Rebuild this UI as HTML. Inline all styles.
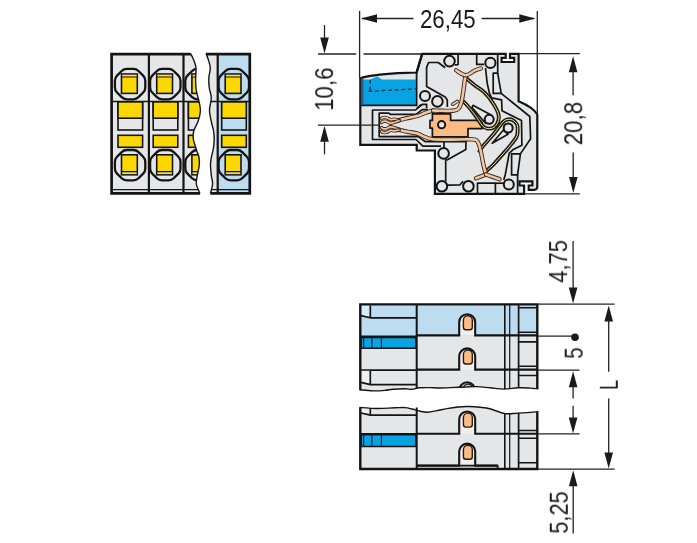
<!DOCTYPE html>
<html><head><meta charset="utf-8"><style>
html,body{margin:0;padding:0;background:#fff;width:697px;height:543px;overflow:hidden}
svg{display:block}
text{font-family:"Liberation Sans",sans-serif;fill:#1a1a1a;will-change:transform}
</style></head><body>
<svg width="697" height="543" viewBox="0 0 697 543">
<defs><clipPath id="cpL"><path d="M111.5,53.6 L190.5,53.6 C191.1,54.7 192.9,57.8 193.8,60.2 C194.7,62.6 195.7,64.8 196.0,67.9 C196.3,71.0 195.6,75.3 195.6,79.0 C195.6,82.7 195.7,86.7 196.2,90.0 C196.7,93.3 197.7,95.7 198.4,99.0 C199.1,102.3 200.4,106.3 200.4,110.0 C200.4,113.7 199.3,117.5 198.2,121.0 C197.1,124.5 194.5,128.0 193.7,131.0 C192.9,134.0 192.8,135.8 193.3,139.0 C193.8,142.2 195.6,147.0 196.5,150.0 C197.4,153.0 198.4,154.5 198.9,157.0 C199.4,159.5 199.6,161.8 199.3,165.0 C199.0,168.2 197.7,172.8 197.2,176.0 C196.7,179.2 195.9,181.1 196.3,184.0 C196.8,186.9 199.3,191.8 199.9,193.4 L111.5,193.4 Z"/></clipPath><clipPath id="cpR"><path d="M206.0,53.6 C206.3,54.5 207.4,56.6 208.1,59.0 C208.8,61.4 210.2,64.7 210.3,67.9 C210.4,71.1 209.0,74.7 208.8,78.0 C208.6,81.3 208.9,84.7 209.3,88.0 C209.7,91.3 211.3,94.3 211.3,98.0 C211.3,101.7 209.5,106.0 209.5,110.0 C209.5,114.0 210.7,118.5 211.4,122.0 C212.1,125.5 213.1,128.0 213.6,131.0 C214.1,134.0 214.3,136.8 214.2,140.0 C214.1,143.2 213.6,147.2 213.1,150.0 C212.6,152.8 211.8,154.5 211.4,157.0 C211.0,159.5 210.5,161.8 210.5,165.0 C210.5,168.2 211.1,172.8 211.4,176.0 C211.8,179.2 212.8,181.1 212.6,184.0 C212.4,186.9 210.8,191.8 210.4,193.4 L249.7,193.4 L249.7,53.6 Z"/></clipPath><clipPath id="cpRb"><rect x="217.7" y="53.6" width="32" height="139.8"/></clipPath></defs>
<path d="M111.5,53.6 L190.5,53.6 C191.1,54.7 192.9,57.8 193.8,60.2 C194.7,62.6 195.7,64.8 196.0,67.9 C196.3,71.0 195.6,75.3 195.6,79.0 C195.6,82.7 195.7,86.7 196.2,90.0 C196.7,93.3 197.7,95.7 198.4,99.0 C199.1,102.3 200.4,106.3 200.4,110.0 C200.4,113.7 199.3,117.5 198.2,121.0 C197.1,124.5 194.5,128.0 193.7,131.0 C192.9,134.0 192.8,135.8 193.3,139.0 C193.8,142.2 195.6,147.0 196.5,150.0 C197.4,153.0 198.4,154.5 198.9,157.0 C199.4,159.5 199.6,161.8 199.3,165.0 C199.0,168.2 197.7,172.8 197.2,176.0 C196.7,179.2 195.9,181.1 196.3,184.0 C196.8,186.9 199.3,191.8 199.9,193.4 L111.5,193.4 Z" fill="#e5e6e8"/>
<path d="M206.0,53.6 C206.3,54.5 207.4,56.6 208.1,59.0 C208.8,61.4 210.2,64.7 210.3,67.9 C210.4,71.1 209.0,74.7 208.8,78.0 C208.6,81.3 208.9,84.7 209.3,88.0 C209.7,91.3 211.3,94.3 211.3,98.0 C211.3,101.7 209.5,106.0 209.5,110.0 C209.5,114.0 210.7,118.5 211.4,122.0 C212.1,125.5 213.1,128.0 213.6,131.0 C214.1,134.0 214.3,136.8 214.2,140.0 C214.1,143.2 213.6,147.2 213.1,150.0 C212.6,152.8 211.8,154.5 211.4,157.0 C211.0,159.5 210.5,161.8 210.5,165.0 C210.5,168.2 211.1,172.8 211.4,176.0 C211.8,179.2 212.8,181.1 212.6,184.0 C212.4,186.9 210.8,191.8 210.4,193.4 L249.7,193.4 L249.7,53.6 Z" fill="#e5e6e8"/>
<rect x="217.7" y="53.6" width="32" height="139.8" fill="#bedcf0"/>
<g clip-path="url(#cpL)">
<path d="M145.30,87.40 Q145.30,90.40 143.18,92.52 L138.52,97.18 Q136.40,99.30 133.40,99.30 L126.80,99.30 Q123.80,99.30 121.68,97.18 L117.02,92.52 Q114.90,90.40 114.90,87.40 L114.90,80.80 Q114.90,77.80 117.02,75.68 L121.68,71.02 Q123.80,68.90 126.80,68.90 L133.40,68.90 Q136.40,68.90 138.52,71.02 L143.18,75.68 Q145.30,77.80 145.30,80.80 Z" fill="none" stroke="#141414" stroke-width="2.3"/>
<path d="M145.30,168.50 Q145.30,171.50 143.18,173.62 L138.52,178.28 Q136.40,180.40 133.40,180.40 L126.80,180.40 Q123.80,180.40 121.68,178.28 L117.02,173.62 Q114.90,171.50 114.90,168.50 L114.90,161.90 Q114.90,158.90 117.02,156.78 L121.68,152.12 Q123.80,150.00 126.80,150.00 L133.40,150.00 Q136.40,150.00 138.52,152.12 L143.18,156.78 Q145.30,158.90 145.30,161.90 Z" fill="none" stroke="#141414" stroke-width="2.3"/>
<rect x="121.5" y="74.0" width="15.8" height="19.4" fill="#fdd800" stroke="#141414" stroke-width="1.6"/>
<rect x="122.3" y="74.8" width="14.2" height="1.7" fill="#e8d3a4"/>
<line x1="121.5" y1="77.0" x2="137.3" y2="77.0" stroke="#141414" stroke-width="1.20"/>
<rect x="121.5" y="154.8" width="15.8" height="20.0" fill="#fdd800" stroke="#141414" stroke-width="1.6"/>
<rect x="122.3" y="172.3" width="14.2" height="1.8" fill="#e8d3a4"/>
<line x1="121.5" y1="171.6" x2="137.3" y2="171.6" stroke="#141414" stroke-width="1.30"/>
<rect x="118.0" y="101.8" width="24.6" height="28.2" fill="#e5e6e8" stroke="#141414" stroke-width="1.6"/>
<rect x="118.0" y="101.8" width="24.6" height="16.4" fill="#fdd800" stroke="#141414" stroke-width="1.6"/>
<rect x="118.0" y="135.3" width="24.6" height="12" fill="#fdd800" stroke="#141414" stroke-width="1.6"/>
<path d="M180.50,87.40 Q180.50,90.40 178.38,92.52 L173.72,97.18 Q171.60,99.30 168.60,99.30 L162.00,99.30 Q159.00,99.30 156.88,97.18 L152.22,92.52 Q150.10,90.40 150.10,87.40 L150.10,80.80 Q150.10,77.80 152.22,75.68 L156.88,71.02 Q159.00,68.90 162.00,68.90 L168.60,68.90 Q171.60,68.90 173.72,71.02 L178.38,75.68 Q180.50,77.80 180.50,80.80 Z" fill="none" stroke="#141414" stroke-width="2.3"/>
<path d="M180.50,168.50 Q180.50,171.50 178.38,173.62 L173.72,178.28 Q171.60,180.40 168.60,180.40 L162.00,180.40 Q159.00,180.40 156.88,178.28 L152.22,173.62 Q150.10,171.50 150.10,168.50 L150.10,161.90 Q150.10,158.90 152.22,156.78 L156.88,152.12 Q159.00,150.00 162.00,150.00 L168.60,150.00 Q171.60,150.00 173.72,152.12 L178.38,156.78 Q180.50,158.90 180.50,161.90 Z" fill="none" stroke="#141414" stroke-width="2.3"/>
<rect x="156.7" y="74.0" width="15.8" height="19.4" fill="#fdd800" stroke="#141414" stroke-width="1.6"/>
<rect x="157.5" y="74.8" width="14.2" height="1.7" fill="#e8d3a4"/>
<line x1="156.7" y1="77.0" x2="172.5" y2="77.0" stroke="#141414" stroke-width="1.20"/>
<rect x="156.7" y="154.8" width="15.8" height="20.0" fill="#fdd800" stroke="#141414" stroke-width="1.6"/>
<rect x="157.5" y="172.3" width="14.2" height="1.8" fill="#e8d3a4"/>
<line x1="156.7" y1="171.6" x2="172.5" y2="171.6" stroke="#141414" stroke-width="1.30"/>
<rect x="153.2" y="101.8" width="24.6" height="28.2" fill="#e5e6e8" stroke="#141414" stroke-width="1.6"/>
<rect x="153.2" y="101.8" width="24.6" height="16.4" fill="#fdd800" stroke="#141414" stroke-width="1.6"/>
<rect x="153.2" y="135.3" width="24.6" height="12" fill="#fdd800" stroke="#141414" stroke-width="1.6"/>
<path d="M215.70,87.40 Q215.70,90.40 213.58,92.52 L208.92,97.18 Q206.80,99.30 203.80,99.30 L197.20,99.30 Q194.20,99.30 192.08,97.18 L187.42,92.52 Q185.30,90.40 185.30,87.40 L185.30,80.80 Q185.30,77.80 187.42,75.68 L192.08,71.02 Q194.20,68.90 197.20,68.90 L203.80,68.90 Q206.80,68.90 208.92,71.02 L213.58,75.68 Q215.70,77.80 215.70,80.80 Z" fill="none" stroke="#141414" stroke-width="2.3"/>
<path d="M215.70,168.50 Q215.70,171.50 213.58,173.62 L208.92,178.28 Q206.80,180.40 203.80,180.40 L197.20,180.40 Q194.20,180.40 192.08,178.28 L187.42,173.62 Q185.30,171.50 185.30,168.50 L185.30,161.90 Q185.30,158.90 187.42,156.78 L192.08,152.12 Q194.20,150.00 197.20,150.00 L203.80,150.00 Q206.80,150.00 208.92,152.12 L213.58,156.78 Q215.70,158.90 215.70,161.90 Z" fill="none" stroke="#141414" stroke-width="2.3"/>
<rect x="191.9" y="74.0" width="15.8" height="19.4" fill="#fdd800" stroke="#141414" stroke-width="1.6"/>
<rect x="192.7" y="74.8" width="14.2" height="1.7" fill="#e8d3a4"/>
<line x1="191.9" y1="77.0" x2="207.7" y2="77.0" stroke="#141414" stroke-width="1.20"/>
<rect x="191.9" y="154.8" width="15.8" height="20.0" fill="#fdd800" stroke="#141414" stroke-width="1.6"/>
<rect x="192.7" y="172.3" width="14.2" height="1.8" fill="#e8d3a4"/>
<line x1="191.9" y1="171.6" x2="207.7" y2="171.6" stroke="#141414" stroke-width="1.30"/>
<rect x="188.4" y="101.8" width="24.6" height="28.2" fill="#e5e6e8" stroke="#141414" stroke-width="1.6"/>
<rect x="188.4" y="101.8" width="24.6" height="16.4" fill="#fdd800" stroke="#141414" stroke-width="1.6"/>
<rect x="188.4" y="135.3" width="24.6" height="12" fill="#fdd800" stroke="#141414" stroke-width="1.6"/>
<line x1="111.5" y1="101.5" x2="202.0" y2="101.5" stroke="#141414" stroke-width="1.30"/>
<line x1="111.5" y1="189.6" x2="202.0" y2="189.6" stroke="#141414" stroke-width="1.30"/>
</g>
<g clip-path="url(#cpRb)">
<path d="M249.00,87.40 Q249.00,90.40 246.88,92.52 L242.22,97.18 Q240.10,99.30 237.10,99.30 L230.50,99.30 Q227.50,99.30 225.38,97.18 L220.72,92.52 Q218.60,90.40 218.60,87.40 L218.60,80.80 Q218.60,77.80 220.72,75.68 L225.38,71.02 Q227.50,68.90 230.50,68.90 L237.10,68.90 Q240.10,68.90 242.22,71.02 L246.88,75.68 Q249.00,77.80 249.00,80.80 Z" fill="none" stroke="#141414" stroke-width="2.3"/>
<path d="M249.00,168.50 Q249.00,171.50 246.88,173.62 L242.22,178.28 Q240.10,180.40 237.10,180.40 L230.50,180.40 Q227.50,180.40 225.38,178.28 L220.72,173.62 Q218.60,171.50 218.60,168.50 L218.60,161.90 Q218.60,158.90 220.72,156.78 L225.38,152.12 Q227.50,150.00 230.50,150.00 L237.10,150.00 Q240.10,150.00 242.22,152.12 L246.88,156.78 Q249.00,158.90 249.00,161.90 Z" fill="none" stroke="#141414" stroke-width="2.3"/>
<rect x="225.2" y="74.0" width="15.8" height="19.4" fill="#fdd800" stroke="#141414" stroke-width="1.6"/>
<rect x="226.0" y="74.8" width="14.2" height="1.7" fill="#e8d3a4"/>
<line x1="225.2" y1="77.0" x2="241.0" y2="77.0" stroke="#141414" stroke-width="1.20"/>
<rect x="225.2" y="154.8" width="15.8" height="20.0" fill="#fdd800" stroke="#141414" stroke-width="1.6"/>
<rect x="226.0" y="172.3" width="14.2" height="1.8" fill="#e8d3a4"/>
<line x1="225.2" y1="171.6" x2="241.0" y2="171.6" stroke="#141414" stroke-width="1.30"/>
<rect x="221.7" y="101.8" width="24.6" height="28.2" fill="#bedcf0" stroke="#141414" stroke-width="1.6"/>
<rect x="221.7" y="101.8" width="24.6" height="16.4" fill="#fdd800" stroke="#141414" stroke-width="1.6"/>
<rect x="221.7" y="135.3" width="24.6" height="12" fill="#fdd800" stroke="#141414" stroke-width="1.6"/>
</g>
<g clip-path="url(#cpR)">
<line x1="205.0" y1="101.5" x2="249.7" y2="101.5" stroke="#141414" stroke-width="1.30"/>
<line x1="205.0" y1="189.6" x2="249.7" y2="189.6" stroke="#141414" stroke-width="1.30"/>
</g>
<line x1="148.9" y1="53.6" x2="148.9" y2="193.4" stroke="#141414" stroke-width="2.20"/>
<line x1="183.5" y1="53.6" x2="183.5" y2="193.4" stroke="#141414" stroke-width="2.20"/>
<line x1="217.7" y1="53.6" x2="217.7" y2="193.4" stroke="#141414" stroke-width="2.20"/>
<path d="M190.8,54.1 H111.6 V193.4 H199.9" fill="none" stroke="#141414" stroke-width="2.7"/>
<path d="M206,54.1 H249.8 V193.4 H210.4" fill="none" stroke="#141414" stroke-width="2.7"/>
<path d="M190.5,53.6 C191.1,54.7 192.9,57.8 193.8,60.2 C194.7,62.6 195.7,64.8 196.0,67.9 C196.3,71.0 195.6,75.3 195.6,79.0 C195.6,82.7 195.7,86.7 196.2,90.0 C196.7,93.3 197.7,95.7 198.4,99.0 C199.1,102.3 200.4,106.3 200.4,110.0 C200.4,113.7 199.3,117.5 198.2,121.0 C197.1,124.5 194.5,128.0 193.7,131.0 C192.9,134.0 192.8,135.8 193.3,139.0 C193.8,142.2 195.6,147.0 196.5,150.0 C197.4,153.0 198.4,154.5 198.9,157.0 C199.4,159.5 199.6,161.8 199.3,165.0 C199.0,168.2 197.7,172.8 197.2,176.0 C196.7,179.2 195.9,181.1 196.3,184.0 C196.8,186.9 199.3,191.8 199.9,193.4" fill="none" stroke="#141414" stroke-width="1.4"/>
<path d="M206.0,53.6 C206.3,54.5 207.4,56.6 208.1,59.0 C208.8,61.4 210.2,64.7 210.3,67.9 C210.4,71.1 209.0,74.7 208.8,78.0 C208.6,81.3 208.9,84.7 209.3,88.0 C209.7,91.3 211.3,94.3 211.3,98.0 C211.3,101.7 209.5,106.0 209.5,110.0 C209.5,114.0 210.7,118.5 211.4,122.0 C212.1,125.5 213.1,128.0 213.6,131.0 C214.1,134.0 214.3,136.8 214.2,140.0 C214.1,143.2 213.6,147.2 213.1,150.0 C212.6,152.8 211.8,154.5 211.4,157.0 C211.0,159.5 210.5,161.8 210.5,165.0 C210.5,168.2 211.1,172.8 211.4,176.0 C211.8,179.2 212.8,181.1 212.6,184.0 C212.4,186.9 210.8,191.8 210.4,193.4" fill="none" stroke="#141414" stroke-width="1.4"/>
<path d="M422.2,53.8 L505.7,53.8 V57.8 H501.6 V62 H514.2 V57.8 H510 V53.8 H518.6 V101.2 C524,103.5 534,108.5 537.3,114.5 L537.3,186.5 Q537.3,189.8 534,189.8 H528.7 V185.5 H532.4 V181.3 H519.5 V185.5 H524.1 V193.8 L434.9,193.8 L434.9,150.5 L416.7,150.5 L416.7,144.8 L360.3,144.8 L360.3,78.2 C368,75.8 380,74.4 398,73.2 L416.6,72.5 Z" fill="#e5e6e8" stroke="#141414" stroke-width="2.2" stroke-linejoin="miter"/>
<path d="M361.2,79.6 L369.8,79.6 L377.6,76.4 L381.8,79.6 L415.8,79.6 L415.8,105 L361.2,105 Z" fill="#08a3e3"/>
<path d="M360.3,105.3 L416.6,105.3 L416.6,72.5" fill="none" stroke="#141414" stroke-width="1.8"/>
<rect x="360.8" y="78.8" width="2.6" height="26" fill="#2f5878"/>
<path d="M370.2,80 V91.4 M368.3,91.4 L416,88.8" fill="none" stroke="#10334d" stroke-width="1.3" stroke-dasharray="4,2.6"/>
<line x1="422.2" y1="53.8" x2="416.6" y2="72.5" stroke="#141414" stroke-width="2.20"/>
<path d="M372.5,125.2 L372.5,110.0 L415.6,110.0 L421.0,104.6" fill="none" stroke="#141414" stroke-width="1.70" stroke-linejoin="round"/>
<path d="M372.5,125.2 L372.5,139.5 L416.0,139.5 L422.9,146.1 L441.0,146.1" fill="none" stroke="#141414" stroke-width="1.70" stroke-linejoin="round"/>
<path d="M389.4,113.2 L379.2,113.2 L379.2,136.6 L417.7,136.4 L425.5,141.7 L466.0,141.7 L465.8,149.5 L446.6,160.3" fill="none" stroke="#141414" stroke-width="1.70" stroke-linejoin="round"/>
<path d="M389.4,113.2 L390.0,114.4 L416.0,114.4 L422.2,109.6 L428.0,109.6" fill="none" stroke="#141414" stroke-width="1.70" stroke-linejoin="round"/>
<path d="M444.0,141.7 L444.0,147.8" fill="none" stroke="#141414" stroke-width="1.70" stroke-linejoin="round"/>
<path d="M416.9,108.5 L422.6,104.3 L426.6,104.3 L426.6,108.2" fill="none" stroke="#141414" stroke-width="1.70" stroke-linejoin="round"/>
<path d="M445.2,67.8 L438.2,62.5 L428.6,62.5 L426.6,67.4 L426.6,86.6 L445.2,97.0 L447.3,100.0 L447.3,107.0" fill="none" stroke="#141414" stroke-width="1.70" stroke-linejoin="round"/>
<path d="M458.1,53.8 L458.1,64.6 L454.6,64.8" fill="none" stroke="#141414" stroke-width="1.70" stroke-linejoin="round"/>
<path d="M476.7,53.8 L476.7,64.4 L484.2,64.4" fill="none" stroke="#141414" stroke-width="1.70" stroke-linejoin="round"/>
<path d="M497.7,53.8 L497.7,73.2 L493.2,73.2 L493.2,93.4 L501.2,93.4 L497.7,73.2" fill="none" stroke="#141414" stroke-width="1.70" stroke-linejoin="round"/>
<path d="M501.2,93.4 L529.8,116.5 L530.6,138.7 L520.4,153.9 L511.6,153.9 L511.6,174.9 L517.6,174.9 L520.4,153.9" fill="none" stroke="#141414" stroke-width="1.70" stroke-linejoin="round"/>
<path d="M517.6,174.9 L517.6,193.0" fill="none" stroke="#141414" stroke-width="1.70" stroke-linejoin="round"/>
<path d="M485.5,68.2 L487.2,83.1 L489.4,93.1 L491.6,97.8 L501.6,99.8 L502.0,110.7 L521.5,120.6 L521.9,145.3 L513.3,149.4 L509.2,153.4 L505.2,175.0 L503.8,180.0" fill="none" stroke="#141414" stroke-width="1.70" stroke-linejoin="round"/>
<path d="M473.0,105.3 L491.5,115.2 L485.5,123.3 L472.0,107.5 Z" fill="none" stroke="#141414" stroke-width="1.70" stroke-linejoin="round"/>
<path d="M492.2,143.3 L503.2,130.2 L508.0,134.2 L492.2,143.3 Z" fill="none" stroke="#141414" stroke-width="1.70" stroke-linejoin="round"/>
<path d="M445.7,157.5 L445.7,181.5" fill="none" stroke="#141414" stroke-width="1.70" stroke-linejoin="round"/>
<path d="M447.2,185.2 L459.8,185.0 L463.0,181.2" fill="none" stroke="#141414" stroke-width="1.70" stroke-linejoin="round"/>
<path d="M477.5,193.8 L477.5,183.2 L495.4,183.2 L495.4,193.8" fill="none" stroke="#141414" stroke-width="1.70" stroke-linejoin="round"/>
<path d="M495.4,183.2 L503.8,183.2" fill="none" stroke="#141414" stroke-width="1.70" stroke-linejoin="round"/>
<path d="M432.4,113.9 H450.6 V120.4 H479.5 Q482,121 482,124 V128.7 H468 V136.8 H432.4 V128.2 H430 V120.4 H432.4 Z" fill="#fbbb84" stroke="#141414" stroke-width="1.7" stroke-linejoin="round"/>
<circle cx="441.6" cy="124.7" r="3.6" fill="#e5e6e8" stroke="#141414" stroke-width="2"/>
<circle cx="449.5" cy="61.1" r="5.3" fill="#e5e6e8" stroke="#141414" stroke-width="2"/>
<circle cx="490.4" cy="62.9" r="5.1" fill="#e5e6e8" stroke="#141414" stroke-width="2"/>
<circle cx="425.0" cy="95.9" r="5.0" fill="#e5e6e8" stroke="#141414" stroke-width="2"/>
<circle cx="437.4" cy="101.4" r="5.3" fill="#e5e6e8" stroke="#141414" stroke-width="2"/>
<circle cx="489.2" cy="119.3" r="4.5" fill="#e5e6e8" stroke="#141414" stroke-width="2"/>
<circle cx="508.2" cy="128.0" r="4.5" fill="#e5e6e8" stroke="#141414" stroke-width="2"/>
<circle cx="443.6" cy="153.4" r="5.3" fill="#e5e6e8" stroke="#141414" stroke-width="2"/>
<circle cx="441.9" cy="186.2" r="5.3" fill="#e5e6e8" stroke="#141414" stroke-width="2"/>
<circle cx="468.4" cy="186.2" r="5.3" fill="#e5e6e8" stroke="#141414" stroke-width="2"/>
<circle cx="508.8" cy="184.4" r="5.0" fill="#e5e6e8" stroke="#141414" stroke-width="2"/>
<path d="M466.5,78.5 C467.8,79.6 471.3,82.6 474.3,85.0 C477.3,87.4 481.5,89.5 484.7,92.7 C487.9,95.9 491.4,100.6 493.7,104.3 C496.0,108.0 497.9,111.8 498.6,114.7 C499.3,117.7 498.8,119.9 498.0,122.0 C497.2,124.1 495.7,126.2 494.0,127.3 C492.3,128.4 489.9,128.8 488.0,128.6 C486.1,128.3 484.8,128.2 482.5,125.8 C480.2,123.4 477.1,117.6 474.3,114.0 C471.6,110.4 468.1,106.2 466.0,104.0 C463.9,101.8 462.7,101.1 462.0,100.5" fill="none" stroke="#1f1c0c" stroke-width="3.90" stroke-linecap="round"/><path d="M466.5,78.5 C467.8,79.6 471.3,82.6 474.3,85.0 C477.3,87.4 481.5,89.5 484.7,92.7 C487.9,95.9 491.4,100.6 493.7,104.3 C496.0,108.0 497.9,111.8 498.6,114.7 C499.3,117.7 498.8,119.9 498.0,122.0 C497.2,124.1 495.7,126.2 494.0,127.3 C492.3,128.4 489.9,128.8 488.0,128.6 C486.1,128.3 484.8,128.2 482.5,125.8 C480.2,123.4 477.1,117.6 474.3,114.0 C471.6,110.4 468.1,106.2 466.0,104.0 C463.9,101.8 462.7,101.1 462.0,100.5" fill="none" stroke="#efe4b0" stroke-width="1.00" stroke-linecap="round"/>
<path d="M479.5,151.0 C480.1,150.1 481.0,148.4 483.4,145.6 C485.8,142.8 490.5,137.9 493.7,134.0 C496.9,130.1 500.5,124.8 502.7,122.4 C504.9,120.0 505.4,120.0 507.0,119.6 C508.6,119.2 510.8,119.2 512.5,120.0 C514.2,120.8 516.1,122.7 517.0,124.5 C517.9,126.3 517.7,128.9 517.6,131.0 C517.5,133.1 517.9,134.3 516.5,137.0 C515.1,139.7 511.5,143.9 509.1,146.9 C506.7,149.9 504.5,152.2 502.0,155.0 C499.5,157.8 496.4,161.5 494.0,164.0 C491.6,166.5 488.6,169.0 487.5,170.0" fill="none" stroke="#1f1c0c" stroke-width="3.90" stroke-linecap="round"/><path d="M479.5,151.0 C480.1,150.1 481.0,148.4 483.4,145.6 C485.8,142.8 490.5,137.9 493.7,134.0 C496.9,130.1 500.5,124.8 502.7,122.4 C504.9,120.0 505.4,120.0 507.0,119.6 C508.6,119.2 510.8,119.2 512.5,120.0 C514.2,120.8 516.1,122.7 517.0,124.5 C517.9,126.3 517.7,128.9 517.6,131.0 C517.5,133.1 517.9,134.3 516.5,137.0 C515.1,139.7 511.5,143.9 509.1,146.9 C506.7,149.9 504.5,152.2 502.0,155.0 C499.5,157.8 496.4,161.5 494.0,164.0 C491.6,166.5 488.6,169.0 487.5,170.0" fill="none" stroke="#efe4b0" stroke-width="1.00" stroke-linecap="round"/>
<path d="M433.0,110.5 C431.7,110.9 427.6,112.1 425.0,113.0 C422.4,113.9 420.3,115.2 417.5,116.0 C414.7,116.8 410.6,117.4 408.0,118.0 C405.4,118.6 403.2,119.0 401.7,119.4 C400.2,119.8 399.4,120.2 399.0,120.3" fill="none" stroke="#3a2414" stroke-width="4.40" stroke-linecap="round"/><path d="M433.0,110.5 C431.7,110.9 427.6,112.1 425.0,113.0 C422.4,113.9 420.3,115.2 417.5,116.0 C414.7,116.8 410.6,117.4 408.0,118.0 C405.4,118.6 403.2,119.0 401.7,119.4 C400.2,119.8 399.4,120.2 399.0,120.3" fill="none" stroke="#eec8a6" stroke-width="2.60" stroke-linecap="round"/>
<path d="M399.0,129.7 C399.4,129.8 400.2,130.1 401.7,130.4 C403.2,130.8 405.4,131.3 408.0,131.8 C410.6,132.3 414.7,132.7 417.5,133.6 C420.3,134.5 422.4,136.1 425.0,137.0 C427.6,137.9 428.8,138.9 433.0,139.3 C437.2,139.7 443.5,139.6 450.0,139.6 C456.5,139.6 467.4,139.1 472.0,139.4 C476.6,139.7 476.1,139.7 477.5,141.5 C478.9,143.3 479.5,146.1 480.5,150.0 C481.5,153.9 482.6,160.9 483.5,165.0 C484.4,169.1 485.6,172.9 486.0,174.5" fill="none" stroke="#3a2414" stroke-width="4.40" stroke-linecap="round"/><path d="M399.0,129.7 C399.4,129.8 400.2,130.1 401.7,130.4 C403.2,130.8 405.4,131.3 408.0,131.8 C410.6,132.3 414.7,132.7 417.5,133.6 C420.3,134.5 422.4,136.1 425.0,137.0 C427.6,137.9 428.8,138.9 433.0,139.3 C437.2,139.7 443.5,139.6 450.0,139.6 C456.5,139.6 467.4,139.1 472.0,139.4 C476.6,139.7 476.1,139.7 477.5,141.5 C478.9,143.3 479.5,146.1 480.5,150.0 C481.5,153.9 482.6,160.9 483.5,165.0 C484.4,169.1 485.6,172.9 486.0,174.5" fill="none" stroke="#eec8a6" stroke-width="2.60" stroke-linecap="round"/>
<path d="M399.0,120.0 C398.2,119.9 395.9,119.3 394.5,119.2 C393.1,119.1 391.8,119.9 390.5,119.6 C389.2,119.3 387.8,117.9 386.5,117.6 C385.2,117.3 383.8,117.4 383.0,117.6 C382.2,117.8 381.8,118.4 381.6,118.6" fill="none" stroke="#3a2414" stroke-width="3.50" stroke-linecap="round"/><path d="M399.0,120.0 C398.2,119.9 395.9,119.3 394.5,119.2 C393.1,119.1 391.8,119.9 390.5,119.6 C389.2,119.3 387.8,117.9 386.5,117.6 C385.2,117.3 383.8,117.4 383.0,117.6 C382.2,117.8 381.8,118.4 381.6,118.6" fill="none" stroke="#eec8a6" stroke-width="1.70" stroke-linecap="round"/>
<path d="M399.0,120.6 C398.2,120.9 395.9,121.8 394.5,122.2 C393.1,122.6 391.8,123.3 390.5,123.2 C389.2,123.1 387.8,121.7 386.5,121.4 C385.2,121.1 383.8,121.2 383.0,121.4 C382.2,121.6 381.8,122.2 381.6,122.4" fill="none" stroke="#3a2414" stroke-width="3.50" stroke-linecap="round"/><path d="M399.0,120.6 C398.2,120.9 395.9,121.8 394.5,122.2 C393.1,122.6 391.8,123.3 390.5,123.2 C389.2,123.1 387.8,121.7 386.5,121.4 C385.2,121.1 383.8,121.2 383.0,121.4 C382.2,121.6 381.8,122.2 381.6,122.4" fill="none" stroke="#eec8a6" stroke-width="1.70" stroke-linecap="round"/>
<path d="M399.0,129.4 C398.2,129.1 395.9,128.2 394.5,127.8 C393.1,127.4 391.8,126.7 390.5,126.8 C389.2,126.9 387.8,128.3 386.5,128.6 C385.2,128.9 383.8,128.8 383.0,128.6 C382.2,128.4 381.8,127.8 381.6,127.6" fill="none" stroke="#3a2414" stroke-width="3.50" stroke-linecap="round"/><path d="M399.0,129.4 C398.2,129.1 395.9,128.2 394.5,127.8 C393.1,127.4 391.8,126.7 390.5,126.8 C389.2,126.9 387.8,128.3 386.5,128.6 C385.2,128.9 383.8,128.8 383.0,128.6 C382.2,128.4 381.8,127.8 381.6,127.6" fill="none" stroke="#eec8a6" stroke-width="1.70" stroke-linecap="round"/>
<path d="M399.0,130.0 C398.2,130.1 395.9,130.7 394.5,130.8 C393.1,130.9 391.8,130.1 390.5,130.4 C389.2,130.7 387.8,132.1 386.5,132.4 C385.2,132.7 383.8,132.6 383.0,132.4 C382.2,132.2 381.8,131.6 381.6,131.4" fill="none" stroke="#3a2414" stroke-width="3.50" stroke-linecap="round"/><path d="M399.0,130.0 C398.2,130.1 395.9,130.7 394.5,130.8 C393.1,130.9 391.8,130.1 390.5,130.4 C389.2,130.7 387.8,132.1 386.5,132.4 C385.2,132.7 383.8,132.6 383.0,132.4 C382.2,132.2 381.8,131.6 381.6,131.4" fill="none" stroke="#eec8a6" stroke-width="1.70" stroke-linecap="round"/>
<path d="M433.0,110.5 C434.5,110.5 438.7,110.8 442.0,110.8 C445.3,110.8 450.3,111.1 453.0,110.8 C455.7,110.5 456.9,110.3 458.3,109.0 C459.7,107.7 460.5,105.5 461.3,102.7 C462.1,99.9 462.6,95.8 463.2,92.0 C463.8,88.2 464.4,82.8 464.8,80.0 C465.2,77.2 465.6,76.2 465.8,75.5" fill="none" stroke="#3a2414" stroke-width="4.40" stroke-linecap="round"/><path d="M433.0,110.5 C434.5,110.5 438.7,110.8 442.0,110.8 C445.3,110.8 450.3,111.1 453.0,110.8 C455.7,110.5 456.9,110.3 458.3,109.0 C459.7,107.7 460.5,105.5 461.3,102.7 C462.1,99.9 462.6,95.8 463.2,92.0 C463.8,88.2 464.4,82.8 464.8,80.0 C465.2,77.2 465.6,76.2 465.8,75.5" fill="none" stroke="#eec8a6" stroke-width="2.60" stroke-linecap="round"/>
<path d="M456.2,70.4 C457.8,71.2 462.5,75.2 465.6,75.2 C468.7,75.2 472.5,71.5 475.0,70.4 C477.5,69.3 479.8,68.7 480.8,68.4" fill="none" stroke="#3a2414" stroke-width="4.40" stroke-linecap="round"/><path d="M456.2,70.4 C457.8,71.2 462.5,75.2 465.6,75.2 C468.7,75.2 472.5,71.5 475.0,70.4 C477.5,69.3 479.8,68.7 480.8,68.4" fill="none" stroke="#eec8a6" stroke-width="2.60" stroke-linecap="round"/>
<path d="M486.0,174.5 C484.3,175.1 477.7,177.6 476.0,178.2" fill="none" stroke="#3a2414" stroke-width="4.40" stroke-linecap="round"/><path d="M486.0,174.5 C484.3,175.1 477.7,177.6 476.0,178.2" fill="none" stroke="#eec8a6" stroke-width="2.60" stroke-linecap="round"/>
<path d="M486.0,174.5 C488.2,175.3 497.2,178.4 499.5,179.2" fill="none" stroke="#3a2414" stroke-width="4.40" stroke-linecap="round"/><path d="M486.0,174.5 C488.2,175.3 497.2,178.4 499.5,179.2" fill="none" stroke="#eec8a6" stroke-width="2.60" stroke-linecap="round"/>
<path d="M452.8,104.2 C453.5,103.7 456.5,101.9 457.2,101.4" fill="none" stroke="#3a2414" stroke-width="3.60" stroke-linecap="round"/><path d="M452.8,104.2 C453.5,103.7 456.5,101.9 457.2,101.4" fill="none" stroke="#eec8a6" stroke-width="1.80" stroke-linecap="round"/>
<defs><clipPath id="cpU"><path d="M360.3,304.4 L537.3,304.4 L538.3,388.8 L538.3,388.8 C536.9,388.7 533.4,388.3 530.0,388.1 C526.6,387.9 522.3,387.6 518.0,387.8 C513.7,388.0 508.7,389.1 504.0,389.1 C499.3,389.1 494.6,388.2 490.0,387.8 C485.4,387.4 481.5,386.7 476.3,386.6 C471.1,386.5 464.7,387.1 458.6,387.3 C452.6,387.5 444.8,387.9 440.0,388.0 C435.2,388.1 433.5,387.6 430.0,387.6 C426.5,387.6 422.0,387.5 419.0,387.8 C416.0,388.1 414.3,389.1 412.0,389.3 C409.7,389.5 408.2,388.8 405.0,388.8 C401.8,388.8 396.3,388.9 393.0,389.2 C389.7,389.5 388.3,390.1 385.0,390.4 C381.7,390.7 377.3,391.0 373.0,390.9 C368.7,390.8 361.7,390.0 359.4,389.8 Z"/></clipPath><clipPath id="cpLo"><path d="M359.4,407.4 C362.3,407.6 371.1,408.4 377.0,408.5 C382.9,408.6 390.3,407.9 395.0,407.8 C399.7,407.7 402.2,407.4 405.0,407.6 C407.8,407.8 409.5,408.4 412.0,409.0 C414.5,409.6 417.4,410.7 420.0,411.2 C422.6,411.7 424.9,412.3 427.7,412.2 C430.5,412.1 433.8,411.2 437.0,410.6 C440.2,410.0 443.3,409.2 446.8,408.6 C450.3,408.0 454.3,407.4 458.0,407.0 C461.7,406.6 465.3,406.4 469.0,406.5 C472.7,406.6 476.5,406.9 480.0,407.3 C483.5,407.7 485.8,407.8 490.0,408.8 C494.2,409.9 500.3,412.9 505.0,413.6 C509.7,414.3 512.5,413.4 518.0,413.1 C523.5,412.8 534.9,411.9 538.3,411.6 L537.3,469.0 L360.3,469.0 Z"/></clipPath></defs>
<g clip-path="url(#cpU)">
<rect x="360.3" y="304.4" width="177.0" height="100.0" fill="#e5e6e8"/>
<rect x="360.3" y="304.4" width="177.0" height="31.6" fill="#bedcf0"/>
<path d="M459.2,335.4 V322.2 A8.0,8.0 0 0 1 475.2,322.2 V335.4 Z" fill="#efeff0"/>
<path d="M463.4,327.3 V320.2 A4.45,4.45 0 0 1 472.3,320.2 V327.3 Q472.3,329.8 469.8,329.8 H465.9 Q463.4,329.8 463.4,327.3 Z" fill="#fbbb84" stroke="#2a1a10" stroke-width="1.4"/>
<path d="M417,335.4 H459.2 V322.2 A8.0,8.0 0 0 1 475.2,322.2 V335.4 H537.0" fill="none" stroke="#141414" stroke-width="2.1"/>
<path d="M459.2,369.6 V356.4 A8.0,8.0 0 0 1 475.2,356.4 V369.6 Z" fill="#efeff0"/>
<path d="M463.4,361.5 V354.5 A4.45,4.45 0 0 1 472.3,354.5 V361.5 Q472.3,364.0 469.8,364.0 H465.9 Q463.4,364.0 463.4,361.5 Z" fill="#fbbb84" stroke="#2a1a10" stroke-width="1.4"/>
<path d="M417,369.6 H459.2 V356.4 A8.0,8.0 0 0 1 475.2,356.4 V369.6 H537.0" fill="none" stroke="#141414" stroke-width="2.1"/>
<path d="M459.2,403.5 V390.3 A8.0,8.0 0 0 1 475.2,390.3 V403.5 Z" fill="#efeff0"/>
<path d="M463.4,395.4 V388.4 A4.45,4.45 0 0 1 472.3,388.4 V395.4 Q472.3,397.9 469.8,397.9 H465.9 Q463.4,397.9 463.4,395.4 Z" fill="#fbbb84" stroke="#2a1a10" stroke-width="1.4"/>
<path d="M417,403.5 H459.2 V390.3 A8.0,8.0 0 0 1 475.2,390.3 V403.5 H537.0" fill="none" stroke="#141414" stroke-width="2.1"/>
<line x1="360.3" y1="336.4" x2="416.7" y2="336.4" stroke="#141414" stroke-width="1.80"/>
<line x1="360.3" y1="370.2" x2="416.7" y2="370.2" stroke="#141414" stroke-width="1.80"/>
<path d="M361,315.6 L370.3,317.8 V305.4 H361 Z" fill="#d8ebf7"/><path d="M361,315.6 L370.3,317.8 V305.4 M370.3,317.8 H416" fill="none" stroke="#141414" stroke-width="1.7"/>
<path d="M361,382.4 L370.3,384.6 V370.8 H361 Z" fill="#eef0f2"/><path d="M361,382.4 L370.3,384.6 V370.8 M370.3,384.6 H416" fill="none" stroke="#141414" stroke-width="1.7"/>
<rect x="361.2" y="337.5" width="54.6" height="10.7" fill="#08a3e3" stroke="#141414" stroke-width="1.5"/><line x1="363.6" y1="337.5" x2="363.6" y2="348.2" stroke="#0d2a40" stroke-width="1.30"/><line x1="371.8" y1="337.5" x2="371.8" y2="348.2" stroke="#0d2a40" stroke-width="1.30"/><line x1="381.4" y1="337.5" x2="381.4" y2="348.2" stroke="#0d2a40" stroke-width="1.30"/>
<line x1="504.8" y1="304.4" x2="504.8" y2="400.0" stroke="#141414" stroke-width="1.60"/><line x1="509.7" y1="304.4" x2="509.7" y2="400.0" stroke="#141414" stroke-width="1.20"/><line x1="518.6" y1="304.4" x2="518.6" y2="400.0" stroke="#141414" stroke-width="1.70"/>
<line x1="518.6" y1="307.8" x2="537.0" y2="307.8" stroke="#141414" stroke-width="1.60"/>
<line x1="518.6" y1="332.2" x2="537.0" y2="332.2" stroke="#141414" stroke-width="1.60"/>
<line x1="518.6" y1="341.9" x2="537.0" y2="341.9" stroke="#141414" stroke-width="1.60"/>
<line x1="518.6" y1="366.2" x2="537.0" y2="366.2" stroke="#141414" stroke-width="1.60"/>
<line x1="518.6" y1="375.5" x2="537.0" y2="375.5" stroke="#141414" stroke-width="1.60"/>
</g>
<g clip-path="url(#cpLo)">
<rect x="360.3" y="395.0" width="177.0" height="74.0" fill="#e5e6e8"/>
<path d="M459.2,433.8 V419.5 A8.0,8.0 0 0 1 475.2,419.5 V433.8 Z" fill="#efeff0"/>
<path d="M463.4,424.6 V417.6 A4.45,4.45 0 0 1 472.3,417.6 V424.6 Q472.3,427.1 469.8,427.1 H465.9 Q463.4,427.1 463.4,424.6 Z" fill="#fbbb84" stroke="#2a1a10" stroke-width="1.4"/>
<path d="M417,433.8 H459.2 V419.5 A8.0,8.0 0 0 1 475.2,419.5 V433.8 H537.0" fill="none" stroke="#141414" stroke-width="2.1"/>
<path d="M459.2,465.6 V451.6 A8.0,8.0 0 0 1 475.2,451.6 V465.6 Z" fill="#efeff0"/>
<path d="M463.4,456.7 V449.7 A4.45,4.45 0 0 1 472.3,449.7 V456.7 Q472.3,459.2 469.8,459.2 H465.9 Q463.4,459.2 463.4,456.7 Z" fill="#fbbb84" stroke="#2a1a10" stroke-width="1.4"/>
<path d="M417,465.6 H459.2 V451.6 A8.0,8.0 0 0 1 475.2,451.6 V465.6 H497.6" fill="none" stroke="#141414" stroke-width="2.1"/>
<line x1="360.3" y1="434.0" x2="416.7" y2="434.0" stroke="#141414" stroke-width="1.80"/>
<path d="M361,413.0 L370.3,415.2 V400.0 H361 Z" fill="#eef0f2"/><path d="M361,413.0 L370.3,415.2 V400.0 M370.3,415.2 H416" fill="none" stroke="#141414" stroke-width="1.7"/>
<rect x="361.2" y="434.7" width="54.6" height="11.8" fill="#08a3e3" stroke="#141414" stroke-width="1.5"/><line x1="363.6" y1="434.7" x2="363.6" y2="446.5" stroke="#0d2a40" stroke-width="1.30"/><line x1="371.8" y1="434.7" x2="371.8" y2="446.5" stroke="#0d2a40" stroke-width="1.30"/><line x1="381.4" y1="434.7" x2="381.4" y2="446.5" stroke="#0d2a40" stroke-width="1.30"/>
<line x1="504.8" y1="395.0" x2="504.8" y2="469.0" stroke="#141414" stroke-width="1.60"/><line x1="509.7" y1="395.0" x2="509.7" y2="469.0" stroke="#141414" stroke-width="1.20"/><line x1="518.6" y1="395.0" x2="518.6" y2="469.0" stroke="#141414" stroke-width="1.70"/>
<line x1="518.6" y1="430.5" x2="537.0" y2="430.5" stroke="#141414" stroke-width="1.60"/>
<line x1="518.6" y1="438.3" x2="537.0" y2="438.3" stroke="#141414" stroke-width="1.60"/>
<line x1="518.6" y1="462.8" x2="537.0" y2="462.8" stroke="#141414" stroke-width="1.60"/>
</g>
<line x1="416.7" y1="304.4" x2="416.7" y2="389.0" stroke="#141414" stroke-width="2.00"/>
<line x1="416.7" y1="407.5" x2="416.7" y2="469.0" stroke="#141414" stroke-width="2.00"/>
<path d="M417,465.6 H497.6 V469" fill="none" stroke="#141414" stroke-width="1.8"/>
<path d="M360.3,389.8 V304.4 H537.3 V388.8" fill="none" stroke="#141414" stroke-width="2.4"/>
<path d="M360.3,407.4 V469.0 H537.3 V411.8" fill="none" stroke="#141414" stroke-width="2.4"/>
<path d="M359.4,389.8 C361.7,390.0 368.7,390.8 373.0,390.9 C377.3,391.0 381.7,390.7 385.0,390.4 C388.3,390.1 389.7,389.5 393.0,389.2 C396.3,388.9 401.8,388.8 405.0,388.8 C408.2,388.8 409.7,389.5 412.0,389.3 C414.3,389.1 416.0,388.1 419.0,387.8 C422.0,387.5 426.5,387.6 430.0,387.6 C433.5,387.6 435.2,388.1 440.0,388.0 C444.8,387.9 452.6,387.5 458.6,387.3 C464.7,387.1 471.1,386.5 476.3,386.6 C481.5,386.7 485.4,387.4 490.0,387.8 C494.6,388.2 499.3,389.1 504.0,389.1 C508.7,389.1 513.7,388.0 518.0,387.8 C522.3,387.6 526.6,387.9 530.0,388.1 C533.4,388.3 536.9,388.7 538.3,388.8" fill="none" stroke="#141414" stroke-width="1.4"/>
<path d="M359.4,407.4 C362.3,407.6 371.1,408.4 377.0,408.5 C382.9,408.6 390.3,407.9 395.0,407.8 C399.7,407.7 402.2,407.4 405.0,407.6 C407.8,407.8 409.5,408.4 412.0,409.0 C414.5,409.6 417.4,410.7 420.0,411.2 C422.6,411.7 424.9,412.3 427.7,412.2 C430.5,412.1 433.8,411.2 437.0,410.6 C440.2,410.0 443.3,409.2 446.8,408.6 C450.3,408.0 454.3,407.4 458.0,407.0 C461.7,406.6 465.3,406.4 469.0,406.5 C472.7,406.6 476.5,406.9 480.0,407.3 C483.5,407.7 485.8,407.8 490.0,408.8 C494.2,409.9 500.3,412.9 505.0,413.6 C509.7,414.3 512.5,413.4 518.0,413.1 C523.5,412.8 534.9,411.9 538.3,411.6" fill="none" stroke="#141414" stroke-width="1.4"/>
<line x1="359.6" y1="11.0" x2="359.6" y2="78.0" stroke="#222" stroke-width="1.30"/>
<line x1="537.3" y1="11.0" x2="537.3" y2="114.0" stroke="#222" stroke-width="1.30"/>
<line x1="362.0" y1="18.5" x2="413.5" y2="18.5" stroke="#222" stroke-width="1.30"/>
<line x1="481.7" y1="18.5" x2="534.0" y2="18.5" stroke="#222" stroke-width="1.30"/>
<path d="M361.0,18.5 L377.0,14.2 L377.0,22.8 Z" fill="#1a1a1a"/>
<path d="M535.3,18.5 L519.3,14.2 L519.3,22.8 Z" fill="#1a1a1a"/>
<text transform="translate(419.98,27.90) scale(0.8570,1)" x="0.00" y="0" font-size="26.0">26,45</text>
<line x1="318.0" y1="54.0" x2="356.2" y2="54.0" stroke="#222" stroke-width="1.30"/>
<line x1="363.5" y1="54.0" x2="422.2" y2="54.0" stroke="#222" stroke-width="1.30"/>
<line x1="324.5" y1="25.0" x2="324.5" y2="45.0" stroke="#222" stroke-width="1.30"/>
<path d="M324.5,53.4 L320.2,37.4 L328.8,37.4 Z" fill="#1a1a1a"/>
<line x1="318.0" y1="125.2" x2="379.0" y2="125.2" stroke="#222" stroke-width="1.30"/>
<path d="M324.5,125.8 L320.2,141.8 L328.8,141.8 Z" fill="#1a1a1a"/>
<line x1="324.5" y1="140.0" x2="324.5" y2="154.3" stroke="#222" stroke-width="1.30"/>
<text transform="translate(333.10,110.79) rotate(-90) scale(0.8551,1)" x="0" y="0" font-size="26.0">10,6</text>
<line x1="518.6" y1="53.6" x2="579.8" y2="53.6" stroke="#222" stroke-width="1.30"/>
<line x1="524.0" y1="193.8" x2="579.8" y2="193.8" stroke="#222" stroke-width="1.30"/>
<path d="M573.1,56.2 L568.8,72.2 L577.4,72.2 Z" fill="#1a1a1a"/>
<line x1="573.1" y1="70.0" x2="573.1" y2="95.2" stroke="#222" stroke-width="1.30"/>
<line x1="573.2" y1="152.5" x2="573.2" y2="178.0" stroke="#222" stroke-width="1.30"/>
<path d="M573.3,193.0 L569.0,177.0 L577.6,177.0 Z" fill="#1a1a1a"/>
<text transform="translate(582.20,145.22) rotate(-90) scale(0.8554,1)" x="0" y="0" font-size="26.0">20,8</text>
<line x1="538.0" y1="304.2" x2="614.6" y2="304.2" stroke="#222" stroke-width="1.30"/>
<line x1="573.1" y1="241.0" x2="573.1" y2="290.0" stroke="#222" stroke-width="1.30"/>
<path d="M573.1,303.6 L568.8,287.6 L577.4,287.6 Z" fill="#1a1a1a"/>
<text transform="translate(567.10,282.70) rotate(-90) scale(0.8423,1)" x="0" y="0" font-size="26.0">4,75</text>
<path d="M608.7,305.4 L604.4,321.4 L613.0,321.4 Z" fill="#1a1a1a"/>
<line x1="608.7" y1="320.0" x2="608.7" y2="371.8" stroke="#222" stroke-width="1.30"/>
<text transform="translate(617.80,389.89) rotate(-90) scale(0.6978,1)" x="0" y="0" font-size="26.0">L</text>
<line x1="608.7" y1="398.4" x2="608.7" y2="455.0" stroke="#222" stroke-width="1.30"/>
<path d="M608.7,468.4 L604.4,452.4 L613.0,452.4 Z" fill="#1a1a1a"/>
<line x1="538.0" y1="336.2" x2="574.0" y2="336.2" stroke="#222" stroke-width="1.30"/>
<circle cx="575" cy="337.2" r="3.8" fill="#1a1a1a"/>
<text transform="translate(582.70,358.72) rotate(-90) scale(0.7869,1)" x="0" y="0" font-size="26.0">5</text>
<line x1="538.0" y1="370.1" x2="579.5" y2="370.1" stroke="#222" stroke-width="1.30"/>
<path d="M573.1,371.2 L568.8,387.2 L577.4,387.2 Z" fill="#1a1a1a"/>
<line x1="573.1" y1="386.0" x2="573.1" y2="398.4" stroke="#222" stroke-width="1.30"/>
<line x1="573.1" y1="405.8" x2="573.1" y2="420.0" stroke="#222" stroke-width="1.30"/>
<path d="M573.1,433.4 L568.8,417.4 L577.4,417.4 Z" fill="#1a1a1a"/>
<line x1="538.0" y1="433.8" x2="579.6" y2="433.8" stroke="#222" stroke-width="1.30"/>
<line x1="538.0" y1="469.2" x2="614.6" y2="469.2" stroke="#222" stroke-width="1.30"/>
<path d="M573.2,470.3 L568.9,486.3 L577.5,486.3 Z" fill="#1a1a1a"/>
<line x1="573.2" y1="485.0" x2="573.2" y2="533.4" stroke="#222" stroke-width="1.30"/>
<text transform="translate(567.80,533.67) rotate(-90) scale(0.8376,1)" x="0" y="0" font-size="26.0">5,25</text>
</svg>
</body></html>
